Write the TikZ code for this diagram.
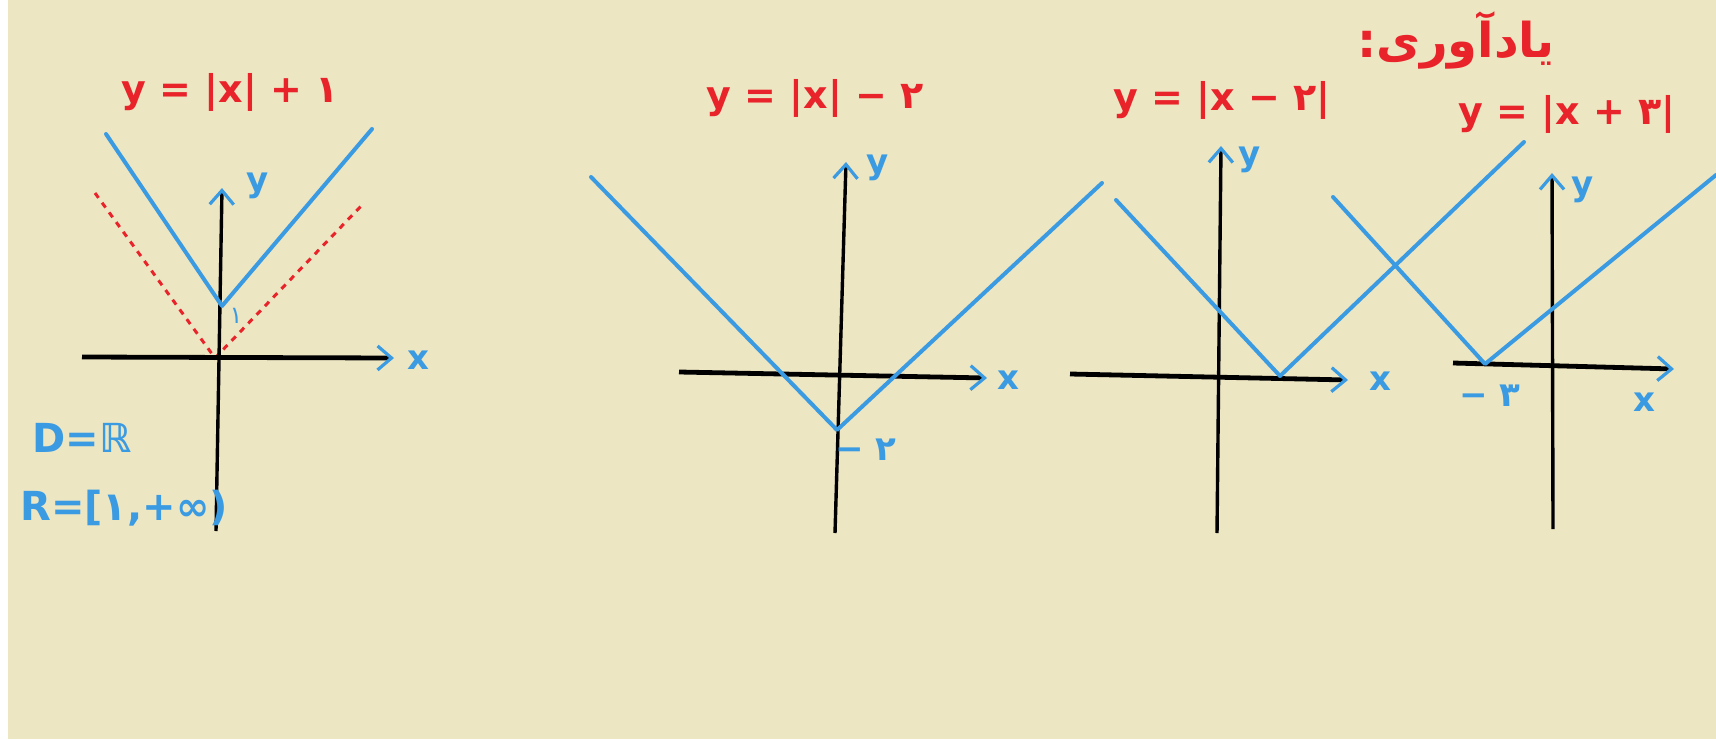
\documentclass[tikz,border=0pt]{standalone}
\usepackage{fontspec}
\setmainfont{DejaVu Sans}
\newfontfamily\fa[Script=Arabic]{DejaVu Sans}
\TeXXeTstate=1
\usetikzlibrary{arrows.meta}
\definecolor{bg}{HTML}{EDE6C3}
\definecolor{pen}{HTML}{3A9BE3}
\definecolor{ink}{HTML}{E8232A}
\tikzset{
 axis/.style={line width=2.4pt, black, -{Straight Barb[color=pen,length=7pt,width=12pt,line width=1.6pt]}},
 yaxis/.style={axis, line width=1.7pt},
 vee/.style={line width=2pt, pen, line cap=round, line join=round},
 eq/.style={ink, font=\bfseries\fontsize{19}{22}\selectfont, inner sep=0pt},
 rem/.style={ink, font=\bfseries\fontsize{24}{28}\selectfont, inner sep=0pt},
 lab/.style={pen, font=\bfseries\fontsize{17}{20}\selectfont, inner sep=0pt},
 big/.style={pen, font=\bfseries\fontsize{20}{24}\selectfont, inner sep=0pt},
 small/.style={pen, font=\fontsize{12}{14}\selectfont, inner sep=0pt},
 reddash/.style={ink, line width=1.5pt, dash pattern=on 3pt off 3pt},
}
\begin{document}
\begin{tikzpicture}[x=0.5pt,y=-0.5pt]
\fill[white] (0,0) rectangle (1716,739);
\fill[bg] (8,0) rectangle (1716,739);
\useasboundingbox (0,0) rectangle (1716,739);

% ---------- graph 1 : y=|x|+1
\coordinate (ax1a) at (82,357);  \coordinate (ax1b) at (394,358);
\coordinate (ay1a) at (216,531); \coordinate (ay1b) at (222,188);
\coordinate (o1) at (215,358);
\coordinate (v1) at (222,306); \coordinate (v1l) at (106,134); \coordinate (v1r) at (372,129);
\coordinate (d1l) at (95,193); \coordinate (d1r) at (363,204);
\draw[reddash] (d1l) -- (o1) -- (d1r);
\draw[axis] (ax1a) -- (ax1b);
\draw[yaxis] (ay1a) -- (ay1b);
\draw[vee] (v1l) -- (v1) -- (v1r);
\node[eq] (e1) at (230,92) {y = |x| + {\fa ۱}};
\node[lab] (x1) at (418,360) {x};
\node[lab] (y1) at (258,186) {y};
\node[small] (one1) at (236,316) {\fa ۱};
\node[big] (dom) at (82,438) {D=ℝ};
\node[big] (ran) at (124,508) {R=[{\fa ۱},+∞)};

% ---------- graph 2 : y=|x|-2
\coordinate (ax2a) at (679,372);  \coordinate (ax2b) at (987,378);
\coordinate (ay2a) at (835,533); \coordinate (ay2b) at (846,162);
\coordinate (v2) at (837,430); \coordinate (v2l) at (591,177); \coordinate (v2r) at (1102,183);
\draw[axis] (ax2a) -- (ax2b);
\draw[yaxis] (ay2a) -- (ay2b);
\draw[vee] (v2l) -- (v2) -- (v2r);
\node[eq] (e2) at (815,98) {y = |x| − {\fa ۲}};
\node[lab] (x2) at (1008,380) {x};
\node[lab] (y2) at (878,168) {y};
\node[lab] (m2) at (866,450) {− {\fa ۲}};

% ---------- graph 3 : y=|x-2|
\coordinate (ax3a) at (1070,374);  \coordinate (ax3b) at (1348,380);
\coordinate (ay3a) at (1217,533); \coordinate (ay3b) at (1221,146);
\coordinate (v3) at (1280,376); \coordinate (v3l) at (1116,200); \coordinate (v3r) at (1524,142);
\draw[axis] (ax3a) -- (ax3b);
\draw[yaxis] (ay3a) -- (ay3b);
\draw[vee] (v3l) -- (v3) -- (v3r);
\node[eq] (e3) at (1222,100) {y = |x − {\fa ۲}|};
\node[lab] (x3) at (1380,381) {x};
\node[lab] (y3) at (1250,160) {y};

% ---------- graph 4 : y=|x+3|
\coordinate (ax4a) at (1453,363);  \coordinate (ax4b) at (1674,369);
\coordinate (ay4a) at (1553,529); \coordinate (ay4b) at (1552,173);
\coordinate (v4) at (1485,364); \coordinate (v4l) at (1333,197); \coordinate (v4r) at (1716,175);
\draw[axis] (ax4a) -- (ax4b);
\draw[yaxis] (ay4a) -- (ay4b);
\draw[vee] (v4l) -- (v4) -- (v4r);
\node[eq] (e4) at (1567,114) {y = |x + {\fa ۳}|};
\node[lab] (x4) at (1644,402) {x};
\node[lab] (y4) at (1583,190) {y};
\node[lab] (m4) at (1490,396) {− {\fa ۳}};

% ---------- reminder
\node[rem] (rm) at (1456,40) {\fa\beginR یادآوری:\endR};
\end{tikzpicture}
\end{document}
